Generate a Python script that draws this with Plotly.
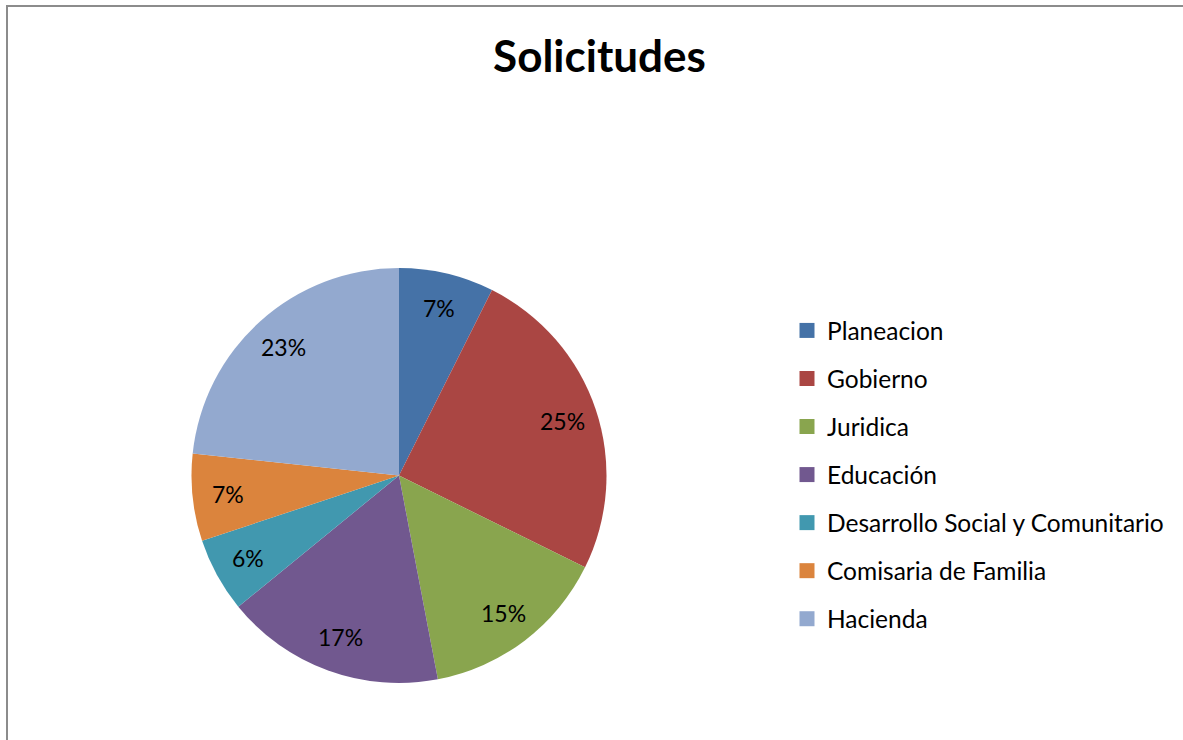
import math
import plotly.graph_objects as go

# ---- data ----
categories = ["Planeacion", "Gobierno", "Juridica", "Educación",
              "Desarrollo Social y Comunitario", "Comisaria de Familia", "Hacienda"]
solicitudes = [74, 249, 147, 171, 58, 68, 233]
colors = ["#4572A7", "#AA4643", "#89A54E", "#71588F", "#4198AF", "#DB843D", "#93A9CF"]
title_text = "Solicitudes"

# ---- layout geometry (pixels) ----
W, H = 1183, 740
cx, cy, R = 399.0, 475.5, 207.5
FONT = "Lato"

fig = go.Figure()
fig.add_trace(go.Pie(
    labels=categories, values=solicitudes, sort=False, direction="clockwise",
    rotation=0, marker=dict(colors=colors, line=dict(width=0)),
    textinfo="none", hoverinfo="label+percent", showlegend=False,
    domain=dict(x=[(cx - R) / W, (cx + R) / W], y=[1 - (cy + R) / H, 1 - (cy - R) / H]),
))

# percentage labels placed at mid-angle of each slice
total = sum(solicitudes)
cum = 0.0
annotations = []
for v in solicitudes:
    mid = (cum + v / 2) / total * 2 * math.pi
    cum += v
    rl = 0.83 * R
    px = cx + rl * math.sin(mid)
    py = cy - rl * math.cos(mid)
    annotations.append(dict(
        x=px / W, y=1 - py / H, xref="paper", yref="paper", showarrow=False,
        text=f"{round(v / total * 100)}%", font=dict(family=FONT, size=23, color="#000000"),
        xanchor="center", yanchor="middle"))

# legend entries
for name, col in zip(categories, colors):
    fig.add_trace(go.Scatter(
        x=[None], y=[None], mode="markers", name=name, legendgroup=name,
        marker=dict(symbol="square", size=15, color=col), hoverinfo="skip"))

fig.update_layout(
    width=W, height=H, margin=dict(l=0, r=0, t=0, b=0),
    paper_bgcolor="white", plot_bgcolor="white",
    xaxis=dict(visible=False), yaxis=dict(visible=False),
    title=dict(text=f"<b>{title_text}</b>", x=599.5 / W, xanchor="center",
               y=1 - 57 / H, yanchor="middle", yref="container",
               font=dict(family=FONT, size=44, color="#000000")),
    legend=dict(x=787 / W, y=1 - 308 / H, xanchor="left", yanchor="top",
                font=dict(family=FONT, size=24.5, color="#000000"),
                tracegroupgap=13.2, traceorder="grouped", bgcolor="rgba(0,0,0,0)"),
    annotations=annotations,
    shapes=[dict(type="rect", xref="paper", yref="paper",
                 x0=7 / W, x1=1.05, y0=-0.05, y1=1 - 6 / H,
                 line=dict(color="#8c8c8c", width=2), fillcolor="rgba(0,0,0,0)")],
)

fig.write_html("out.html")
